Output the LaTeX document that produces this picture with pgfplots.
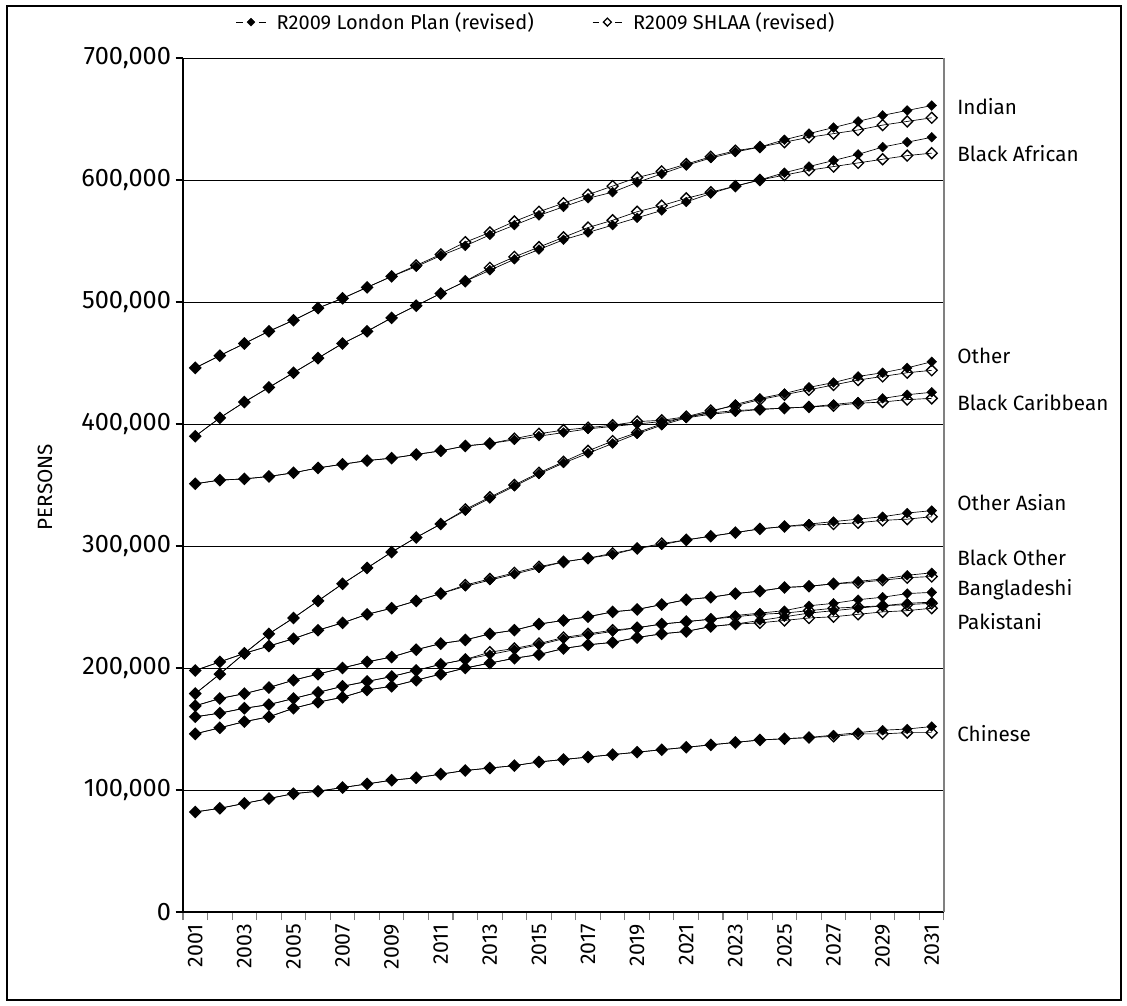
\documentclass[border=0pt]{standalone}
\usepackage{pgfplots}
\usepackage{pgfplotstable}
\pgfplotsset{compat=1.18}
\usepackage{fontspec}
\setmainfont{Fira Sans}

% R2009 London Plan (revised)
\pgfplotstableread{
year ind ba oth bc oa bo bang pak chi
2001 446000 390000 179000 351000 198000 169000 160000 146000 82000
2002 456000 405000 195000 354000 205000 175000 163000 151000 85000
2003 466000 418000 212000 355000 212000 179000 167000 156000 89000
2004 476000 430000 228000 357000 218000 184000 170000 160000 93000
2005 485000 442000 241000 360000 224000 190000 175000 167000 97000
2006 495000 454000 255000 364000 231000 195000 180000 172000 99000
2007 503000 466000 269000 367000 237000 200000 185000 176000 102000
2008 512000 476000 282000 370000 244000 205000 189000 182000 105000
2009 521000 487000 295000 372000 249000 209000 193000 185000 108000
2010 529000 497000 307000 375000 255000 215000 198000 190000 110000
2011 538000 507000 318000 378000 261000 220000 203000 195000 113000
2012 546000 517000 329000 382000 267000 223000 207000 200000 116000
2013 555000 526000 339000 384000 272000 228000 211000 204000 118000
2014 563000 535000 349000 387000 277000 231000 215000 208000 120000
2015 571000 543000 359000 390000 282000 236000 219000 211000 123000
2016 578000 551000 368000 393000 287000 239000 224000 216000 125000
2017 585000 557000 376000 396000 290000 242000 227000 219000 127000
2018 590000 563000 384000 398000 293000 246000 230000 221000 129000
2019 598000 569000 392000 400000 298000 248000 233000 225000 131000
2020 605000 575000 399000 402000 301000 252000 236000 228000 133000
2021 612000 582000 405000 405000 305000 256000 238000 230000 135000
2022 618000 589000 410000 408000 308000 258000 240000 234000 137000
2023 623000 595000 416000 410000 311000 261000 243000 236000 139000
2024 627000 600000 421000 412000 314000 263000 245000 239000 141000
2025 633000 606000 425000 413000 316000 266000 247000 242000 142000
2026 638000 611000 430000 414000 318000 267000 251000 245000 143000
2027 643000 616000 434000 416000 320000 269000 253000 247000 145000
2028 648000 621000 439000 418000 322000 271000 256000 249000 147000
2029 653000 627000 442000 421000 324000 273000 258000 251000 149000
2030 657000 631000 446000 424000 327000 276000 261000 253000 150000
2031 661000 635000 451000 426000 329000 278000 262000 254000 152000
}\lp

% R2009 SHLAA (revised)
\pgfplotstableread{
year ind ba oth bc oa bo bang pak chi
2001 446000 390000 179000 351000 198000 169000 160000 146000 82000
2002 456000 405000 195000 354000 205000 175000 163000 151000 85000
2003 466000 418000 212000 355000 212000 179000 167000 156000 89000
2004 476000 430000 228000 357000 218000 184000 170000 160000 93000
2005 485000 442000 241000 360000 224000 190000 175000 167000 97000
2006 495000 454000 255000 364000 231000 195000 180000 172000 99000
2007 503000 466000 269000 367000 237000 200000 185000 176000 102000
2008 512000 476000 282000 370000 244000 205000 189000 182000 105000
2009 521000 487000 295000 372000 249000 209000 193000 185000 108000
2010 530000 497000 307000 375000 255000 215000 198000 190000 110000
2011 539000 507000 318000 378000 261000 220000 203000 195000 113000
2012 549000 517000 330000 382000 268000 223000 207000 200000 116000
2013 557000 528000 340000 384000 273000 228000 213000 204000 118000
2014 566000 537000 350000 388000 278000 231000 216000 208000 120000
2015 574000 545000 360000 392000 283000 236000 220000 211000 123000
2016 581000 553000 369000 395000 287000 239000 225000 216000 125000
2017 588000 561000 378000 397000 290000 242000 228000 219000 127000
2018 595000 567000 386000 399000 294000 246000 231000 221000 129000
2019 602000 574000 393000 402000 298000 248000 233000 225000 131000
2020 607000 579000 400000 403000 302000 252000 236000 228000 133000
2021 613000 585000 406000 406000 305000 256000 238000 230000 135000
2022 619000 590000 411000 409000 308000 258000 240000 234000 137000
2023 624000 595000 415000 411000 311000 261000 242000 236000 139000
2024 627000 600000 420000 412000 314000 263000 244000 237000 141000
2025 631000 604000 424000 413000 316000 266000 245000 239000 142000
2026 635000 608000 428000 414000 317000 267000 247000 241000 143000
2027 638000 611000 432000 415000 318000 269000 249000 242000 144000
2028 641000 614000 436000 417000 319000 270000 250000 244000 146000
2029 645000 617000 439000 418000 321000 272000 251000 246000 146000
2030 648000 620000 442000 420000 322000 274000 252000 247000 147000
2031 651000 622000 444000 421000 324000 275000 253000 249000 147000
}\sh

\pgfplotsset{
  lp/.style={black, line width=0.5pt, mark=square*,
    mark options={solid, rotate=45, fill=black, line width=0.3pt}, mark size=2.6pt},
  sh/.style={black, line width=0.5pt, mark=square,
    mark options={solid, rotate=45, fill=none, line width=1pt}, mark size=2.9pt},
}

\begin{document}
\begin{tikzpicture}
\begin{axis}[
  scale only axis,
  width=570.75pt, height=640.5pt,
  clip=false,
  xmin=2000.5, xmax=2031.5,
  ymin=0, ymax=700000,
  axis x line*=bottom, axis y line*=left,
  axis line style={black, line width=1.2pt},
  xtick={2001,2003,...,2031},
  minor xtick={2000.5,2001.5,...,2031.5},
  major x tick style={draw=none},
  minor x tick style={draw=gray, line width=0.8pt},
  minor tick length=6pt,
  ytick={0,100000,...,700000},
  y tick style={black, line width=0.8pt},
  major tick length=5.5pt,
  tick align=outside,
  ymajorgrids,
  grid style={black, line width=0.6pt},
  scaled y ticks=false,
  /pgf/number format/assume math mode=true,
  x tick label style={rotate=90, anchor=east, font=\fontsize{16}{18}\selectfont,
    /pgf/number format/1000 sep={}},
  y tick label style={font=\fontsize{19}{21}\selectfont,
    /pgf/number format/fixed, /pgf/number format/1000 sep={,}},
  legend columns=2,
  legend style={draw=none, fill=none, at={(0.064,1.042)}, anchor=west,
    font=\fontsize{15}{17}\selectfont,
    /tikz/every odd column/.append style={column sep=6pt},
    /tikz/every even column/.append style={column sep=42pt}},
  legend image code/.code={
    \draw[#1, mark=none] (0pt,0pt) -- (5pt,0pt) (17pt,0pt) -- (22pt,0pt);
    \draw[#1, mark size=2.1pt] plot coordinates {(11pt,0pt)};
  },
]
\addlegendimage{lp}
\addlegendentry{R2009 London Plan (revised)}
\addlegendimage{sh}
\addlegendentry{R2009 SHLAA (revised)}

\foreach \c in {ind,ba,oth,bc,oa,bo,bang,pak,chi}{
  \addplot[sh, forget plot] table[x=year, y=\c] {\sh};
  \addplot[lp, forget plot] table[x=year, y=\c] {\lp};
}

% right border of the plot area
\draw[gray, line width=0.8pt] (rel axis cs:1,0) -- (rel axis cs:1,1);

% series names
\begin{scope}[every node/.style={anchor=west, inner sep=0pt, font=\fontsize{15.5}{18}\selectfont}]
\node at (rel axis cs:1.0171,0.9426) {Indian};
\node at (rel axis cs:1.0171,0.8876) {Black African};
\node at (rel axis cs:1.0171,0.6511) {Other};
\node at (rel axis cs:1.0171,0.5960) {Black Caribbean};
\node at (rel axis cs:1.0171,0.4789) {Other Asian};
\node at (rel axis cs:1.0171,0.4145) {Black Other};
\node at (rel axis cs:1.0171,0.3770) {Bangladeshi};
\node at (rel axis cs:1.0171,0.3396) {Pakistani};
\node at (rel axis cs:1.0171,0.2084) {Chinese};
\end{scope}

\node[rotate=90, font=\fontsize{15.5}{18}\selectfont] at (rel axis cs:-0.1813,0.4977) {PERSONS};

% chart frame and page size
\draw[line width=1.5pt] (rel axis cs:-0.2313,-0.1030) rectangle (rel axis cs:1.2326,1.0609);
\path (rel axis cs:-0.24047,-0.10890) rectangle (rel axis cs:1.24047,1.06792);
\end{axis}
\end{tikzpicture}
\end{document}
